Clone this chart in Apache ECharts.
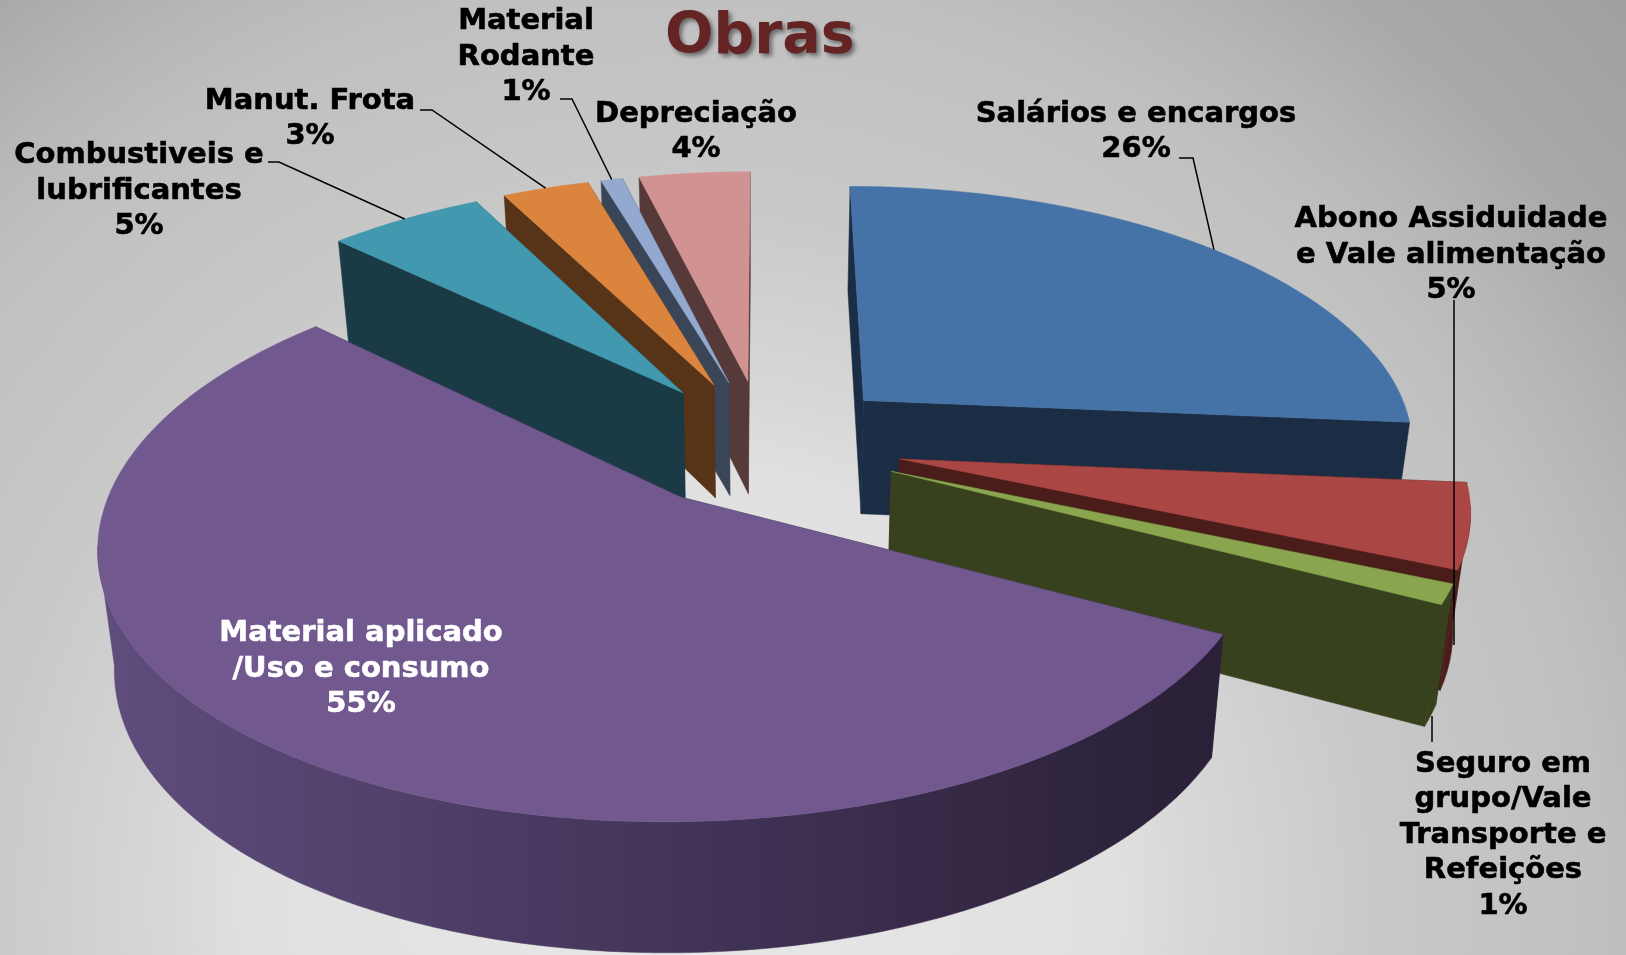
<!DOCTYPE html>
<html>
<head>
<meta charset="utf-8">
<title>Obras</title>
<style>
  html, body { margin: 0; padding: 0; }
  #main { width: 1626px; height: 955px; }
</style>
<script src="https://cdn.jsdelivr.net/npm/echarts@6/dist/echarts.min.js"></script>
</head>
<body>
<div id="main"></div>
<script>
var titleText = 'Obras'
var categories = [
  'Salários e encargos',
  'Abono Assiduidade\ne Vale alimentação',
  'Seguro em\ngrupo/Vale\nTransporte e\nRefeições',
  'Material aplicado\n/Uso e consumo',
  'Combustiveis e\nlubrificantes',
  'Manut. Frota',
  'Material\nRodante',
  'Depreciação'
]
// printed on the labels
var percentLabels = ['26%', '5%', '1%', '55%', '5%', '3%', '1%', '4%']
var percents = [26.4, 5.1, 1.2, 54.35, 5.35, 3, 0.75, 3.85]

var topColors = ['#4572a7', '#aa4643', '#89a54e', '#71588f', '#4198af', '#db843d', '#93a9cf', '#d19392']
var wallColors = ['#1a2d44', '#4a1c1a', '#37411e', '#2b2138', '#1a3a46', '#573318', '#3a4558', '#563a3a']

// back to front
var drawOrder = [0, 1, 2, 7, 6, 5, 4, 3]

// label centres, one per category
var labelX = [1136, 1451, 1503, 361, 139, 310, 526, 696]
var labelY = [132, 255, 835, 669, 191, 119, 57, 132]

// start of each leader line; a third point is used when it does not end on the slice mid angle
var leaders = [
  [[1179, 158], [1193, 158]],
  [[1454, 300], [1454, 645]],
  [[1432, 742], [1432, 716]],
  null,
  [[268, 162], [279, 162]],
  [[420, 110], [432, 110]],
  [[560, 99], [572, 99]],
  null
]
var leaderFixed = [false, true, true, false, false, false, false, false]

// projection of the tilted pie
var cx = 764
var cy = 443
var radiusX = 554
var radiusY = 258
var perspX = 0.16
var perspY = 0.15
var explode = 0.25
var bottomScale = 0.975

var total = percents.reduce(function (a, b) { return a + b }, 0)
var startAngles = []
var acc = 0
percents.forEach(function (v) {
  startAngles.push(acc)
  acc += v / total * 360
})

function rad (deg) {
  return deg * Math.PI / 180
}

function project (i, angle, r, bottom) {
  var mid = rad(startAngles[i] + percents[i] / total * 180)
  var X = r * Math.sin(rad(angle)) + explode * Math.sin(mid)
  var Y = r * Math.cos(rad(angle)) + explode * Math.cos(mid)
  var s = 1 / (1 + perspX * Y)
  var x = cx + radiusX * X * s
  var y = cy - radiusY * Y / (1 + perspY * Y)
  if (bottom) {
    x = cx + (x - cx) * bottomScale
    y += 48 + 67 * s
  }
  return [x, y]
}

function arc (i, from, to, bottom) {
  var pts = []
  var n = Math.max(2, Math.ceil(Math.abs(to - from) / 2))
  for (var k = 0; k <= n; k++) {
    pts.push(project(i, from + (to - from) * k / n, 1, bottom))
  }
  return pts
}

function poly (points, fill) {
  return {type: 'polygon', shape: {points: points}, style: {fill: fill, stroke: fill, lineWidth: 0.5}}
}

function wall (i, angle) {
  return poly([
    project(i, angle, 0, false),
    project(i, angle, 1, false),
    project(i, angle, 1, true),
    project(i, angle, 0, true)
  ], wallColors[i])
}

function renderSlice (params, api) {
  var i = api.value(0)
  var from = startAngles[i]
  var to = from + api.value(1) / total * 360
  var children = []

  // far wall first
  var walls = [from, to].sort(function (a, b) {
    return Math.cos(rad(b)) - Math.cos(rad(a))
  })
  children.push(wall(i, walls[0]), wall(i, walls[1]))

  // round side, only the part that faces the viewer
  var a = Math.max(from, 100)
  var b = Math.min(to, 260)
  if (b > a) {
    var fill = wallColors[i]
    if (i === 3) {
      fill = new echarts.graphic.LinearGradient(100, 0, 1200, 0, [
        {offset: 0, color: '#5f4d7d'},
        {offset: 0.5, color: '#44355a'},
        {offset: 1, color: '#2a2037'}
      ], true)
    }
    children.push(poly(arc(i, a, b, false).concat(arc(i, b, a, true)), fill))
  }

  children.push(poly([project(i, from, 0, false)].concat(arc(i, from, to, false)), topColors[i]))
  return {type: 'group', children: children}
}

function renderLabels (params, api) {
  var i = api.value(0)
  var children = []
  if (leaders[i]) {
    var line = leaders[i].slice()
    if (!leaderFixed[i]) {
      line.push(project(i, startAngles[i] + percents[i] / total * 180, 1, false))
    }
    children.push({
      type: 'polyline',
      shape: {points: line},
      style: {fill: null, stroke: '#000', lineWidth: 1.5}
    })
  }
  var color = i === 3 ? '#fff' : '#000'
  children.push({
    type: 'text',
    style: {
      text: categories[i] + '\n' + percentLabels[i],
      x: labelX[i],
      y: labelY[i],
      align: 'center',
      verticalAlign: 'middle',
      fill: color,
      stroke: color,
      lineWidth: 0.6,
      fontFamily: 'DejaVu Sans',
      fontWeight: 'bold',
      fontSize: 29,
      lineHeight: 35.5
    }
  })
  return {type: 'group', children: children}
}

var myChart = echarts.init(document.getElementById('main'))
var option = {
  animation: false,
  backgroundColor: {
    type: 'radial',
    x: 680,
    y: 900,
    r: 1305,
    global: true,
    colorStops: [
      {offset: 0, color: '#e8e8e8'},
      {offset: 0.33, color: '#e0e0e0'},
      {offset: 0.39, color: '#d8d8d8'},
      {offset: 0.53, color: '#c9c9c9'},
      {offset: 0.7, color: '#c0c0c0'},
      {offset: 0.78, color: '#b6b6b6'},
      {offset: 0.86, color: '#a9a9a9'},
      {offset: 1, color: '#a0a0a0'}
    ]
  },
  title: {
    text: titleText,
    left: 660,
    top: 5,
    textStyle: {
      color: '#632423',
      fontFamily: 'DejaVu Sans',
      fontWeight: 'bold',
      fontSize: 57,
      textShadowColor: 'rgba(0,0,0,0.45)',
      textShadowBlur: 4,
      textShadowOffsetX: 3,
      textShadowOffsetY: 3
    }
  },
  series: [
    {
      type: 'custom',
      coordinateSystem: 'none',
      silent: true,
      renderItem: renderSlice,
      data: drawOrder.map(function (i) { return [i, percents[i]] })
    },
    {
      type: 'custom',
      coordinateSystem: 'none',
      silent: true,
      z: 3,
      renderItem: renderLabels,
      data: percents.map(function (v, i) { return [i, v] })
    }
  ]
}
myChart.setOption(option)
window.addEventListener('resize', function () {
  myChart.resize()
})
</script>
</body>
</html>
